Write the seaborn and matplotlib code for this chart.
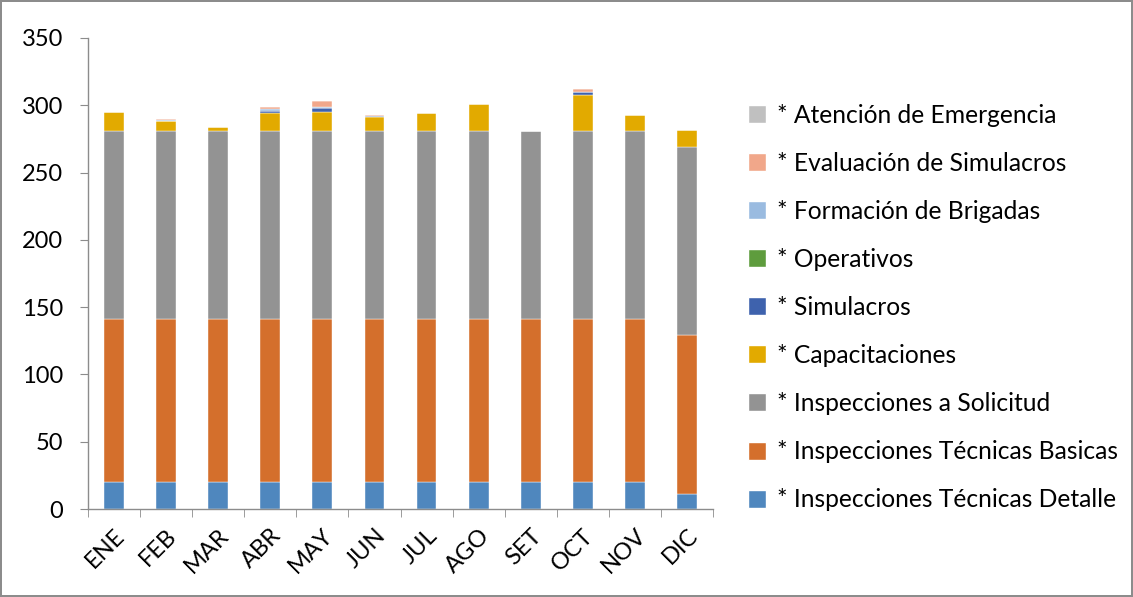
import numpy as np
import pandas as pd
import matplotlib
matplotlib.use('Agg')
import matplotlib.pyplot as plt
import seaborn as sns
from matplotlib.patches import Patch

meses = ['ENE', 'FEB', 'MAR', 'ABR', 'MAY', 'JUN', 'JUL', 'AGO', 'SET', 'OCT', 'NOV', 'DIC']

# series, bottom to top
insp_detalle = [20, 20, 20, 20, 20, 20, 20, 20, 20, 20, 20, 11]
insp_basicas = [121, 121, 121, 121, 121, 121, 121, 121, 121, 121, 121, 118]
insp_solicitud = [140, 140, 140, 140, 140, 140, 140, 140, 140, 140, 140, 140]
capacitaciones = [14, 7, 3, 13, 14, 10, 13, 20, 0, 27, 12, 13]
simulacros = [0, 0, 0, 2, 3, 1, 0, 0, 0, 2, 0, 0]
operativos = [0, 0, 0, 0, 0, 0, 0, 0, 0, 0, 0, 0]
formacion = [0, 1, 0, 1, 1, 0, 0, 0, 0, 0, 0, 0]
evaluacion = [0, 1, 0, 2, 4, 1, 0, 0, 0, 2, 0, 0]
atencion = [0, 0, 0, 0, 0, 0, 0, 0, 0, 0, 0, 0]

series = [
    ('* Inspecciones Técnicas Detalle', insp_detalle, '#4F87BE'),
    ('* Inspecciones Técnicas Basicas', insp_basicas, '#D46F2C'),
    ('* Inspecciones a Solicitud', insp_solicitud, '#939393'),
    ('* Capacitaciones', capacitaciones, '#E2AA00'),
    ('* Simulacros', simulacros, '#3E62AD'),
    ('* Operativos', operativos, '#5E9C3D'),
    ('* Formación de Brigadas', formacion, '#9ABBE0'),
    ('* Evaluación de Simulacros', evaluacion, '#F1A78A'),
    ('* Atención de Emergencia', atencion, '#C0C0C0'),
]

sns.set_style('white')
plt.rcParams['font.family'] = ['Lato', 'DejaVu Sans']
plt.rcParams['text.color'] = 'black'
plt.rcParams['xtick.color'] = 'black'
plt.rcParams['ytick.color'] = 'black'

fig = plt.figure(figsize=(11.33, 5.97), dpi=100, edgecolor='#8c8c8c', linewidth=1.5)
ax = fig.add_axes([88 / 1133, 88 / 597, 625 / 1133, 471 / 597])

bottom = np.zeros(len(meses))
for name, vals, color in series:
    df = pd.DataFrame({'mes': meses, 'valor': vals})
    sns.barplot(data=df, x='mes', y='valor', color=color, bottom=bottom,
                width=0.38, ax=ax, edgecolor='white', linewidth=0.3, saturation=1)
    bottom = bottom + np.array(vals)

ax.set_ylim(0, 350)
ax.set_yticks(range(0, 351, 50))
ax.set_xlim(-0.5, len(meses) - 0.5)
ax.set_xlabel('')
ax.set_ylabel('')

for s in ['top', 'right']:
    ax.spines[s].set_visible(False)
for s in ['left', 'bottom']:
    ax.spines[s].set_color('#8c8c8c')
    ax.spines[s].set_linewidth(1)

ax.tick_params(axis='y', which='both', left=True, length=6, color='#8c8c8c',
               labelcolor='black', labelsize=17, pad=12)
ax.set_xticks(np.arange(len(meses)))
ax.set_xticklabels(meses, rotation=45, ha='right', rotation_mode='anchor', fontsize=17)
ax.tick_params(axis='x', which='major', bottom=False, pad=8, labelcolor='black')
ax.set_xticks(np.arange(-0.5, len(meses), 1), minor=True)
ax.tick_params(axis='x', which='minor', bottom=True, length=6, color='#8c8c8c')

handles = [Patch(facecolor=c, label=n) for n, v, c in reversed(series)]
leg = ax.legend(handles=handles, loc='center left', bbox_to_anchor=(1.02, 0.428),
                frameon=False, fontsize=17.7, handlelength=0.75, handleheight=0.75,
                handletextpad=0.45, labelspacing=1.02)
for t in leg.get_texts():
    t.set_color('black')

fig.savefig('out.png', dpi=100, edgecolor=fig.get_edgecolor())
